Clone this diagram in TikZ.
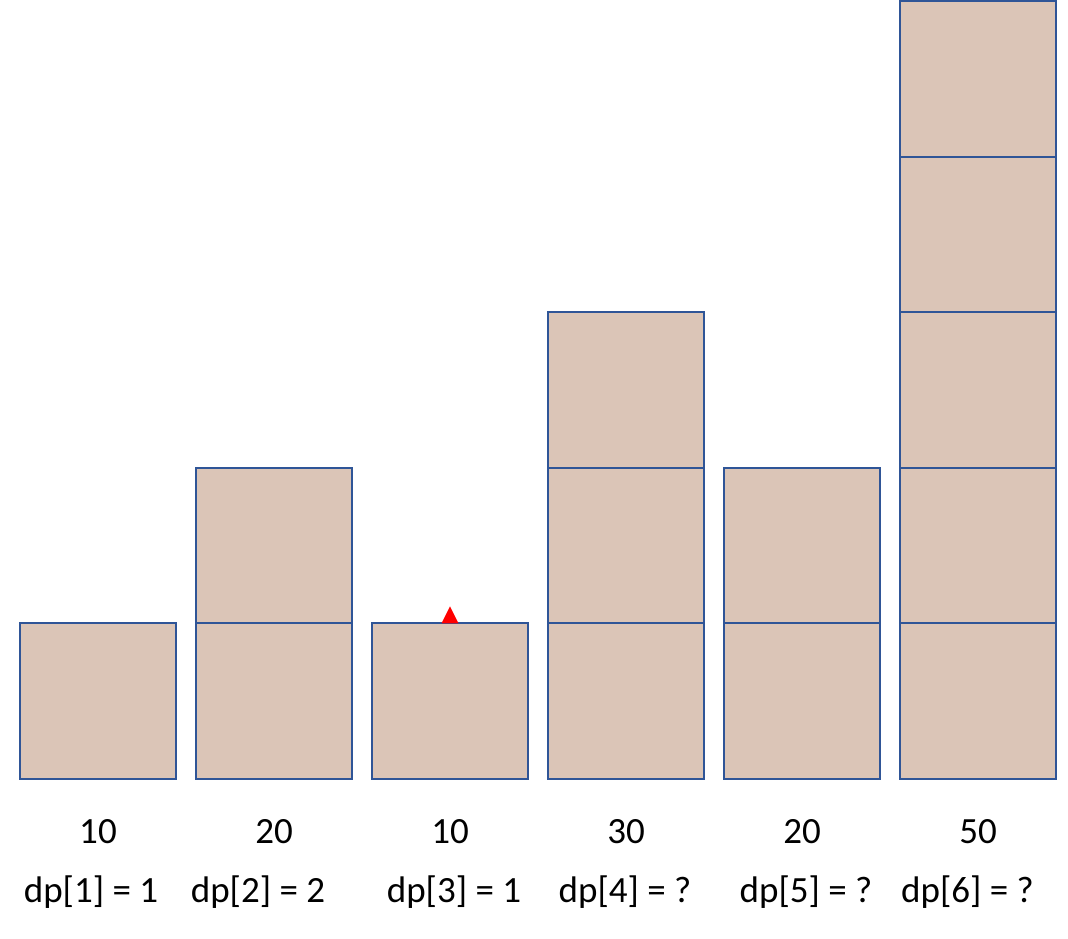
\documentclass[tikz,border=0pt]{standalone}
\usepackage{fontspec}
\setmainfont{Carlito}
\usepackage{tikz}

\definecolor{brickfill}{RGB}{219,197,183}
\definecolor{brickline}{RGB}{47,85,151}

\tikzset{
  brick/.style={fill=brickfill, outer sep=0pt,
    minimum width=156pt, minimum height=155.6pt, inner sep=0pt},
  brickedge/.style={draw=brickline, line width=2pt},
  lbl/.style={inner sep=0pt, font=\fontsize{37}{44}\selectfont}
}

\begin{document}
\begin{tikzpicture}[x=1pt,y=-1pt]
   \useasboundingbox (0,0) rectangle (1068,939);

   % columns: number, stacked boxes, value, x of dp label, dp value
   \foreach \i/\h/\v/\dx/\d in {1/1/10/91/1, 2/2/20/258/2, 3/1/10/454/1,
                                 4/3/30/625/?, 5/2/20/806/?, 6/5/50/967.5/?} {
     \foreach \j in {1,...,\h}
       \node[brick] (b\i-\j) at ({98+176*(\i-1)}, {701.2-155.6*(\j-1)}) {};
     \foreach \j in {1,...,\h}
       \draw[brickedge] (b\i-\j.north west) rectangle (b\i-\j.south east);
     \node[lbl] (v\i) at ({98+176*(\i-1)}, 832) {\v};
     \node[lbl] (dp\i) at (\dx, 892.5) {dp[\i] = \d};
   }

   % marker on the third box
   \fill[red] ([xshift=-8.5pt]b3-1.north) -- ++(8.5,-17) -- ++(8.5,17) -- cycle;

\end{tikzpicture}
\end{document}
